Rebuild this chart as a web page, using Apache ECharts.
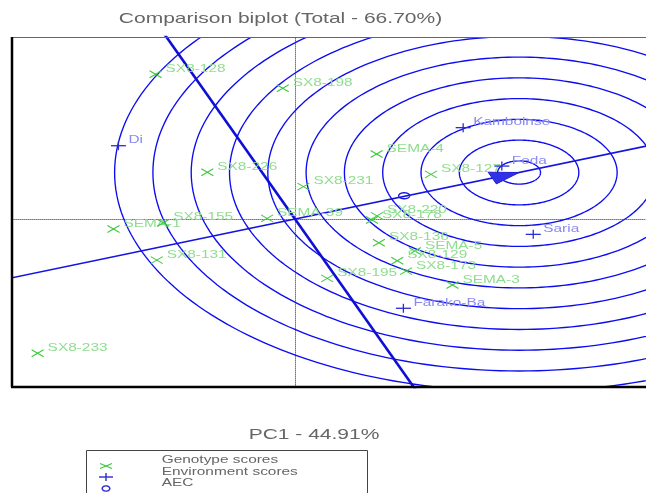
<!DOCTYPE html>
<html><head><meta charset="utf-8">
<script src="https://cdn.jsdelivr.net/npm/echarts@6/dist/echarts.min.js"></script>
<style>html,body{margin:0;padding:0;background:#fff}#c{width:646px;height:493px}</style>
</head><body><div id="c"></div>
<script>
// ---- data ----
const genotypeNames = ['SX8-128','SX8-198','SX8-226','SX8-231','SEMA-4','SX8-127','SX8-220','SX8-178','SX8-136','SEMA-5','SX8-129','SX8-173','SX8-195','SEMA-3','SEMA-1','SX8-155','SEMA-39','SX8-131','SX8-233'];
const genotypeX = [-3.64,-0.32,-2.29,0.22,2.13,3.55,2.14,2.01,2.19,3.13,2.67,2.90,0.84,4.11,-4.74,-3.44,-0.73,-3.61,-6.72];
const genotypeY = [6.97,6.30,2.25,1.56,3.13,2.15,0.15,-0.05,-1.14,-1.54,-2.01,-2.51,-2.86,-3.18,-0.48,-0.18,0.03,-1.98,-6.47];
const envNames = ['Di','Kamboinse','Feda','Saria','Farako-Ba'];
const envX = [-4.61,4.39,5.40,6.22,2.83];
const envY = [3.53,4.40,2.55,-0.74,-4.30];
const aecPoint = [2.85, 1.12];
const idealPoint = [5.85, 2.24];
const circleRadii = [0.56,1.56,2.56,3.56,4.56,5.56,6.56,7.56,8.56,9.56,10.56];
const titleText = 'Comparison biplot (Total - 66.70%)';
const xAxisTitle = 'PC1 - 44.91%';
const legendLabels = ['Genotype scores','Environment scores','AEC'];

// ---- styling ----
const SX = 1.4; // horizontal text stretch seen in the reference
const FONT = '"Liberation Sans", Arial, sans-serif';
const GREEN = '#3cc83c', GREEN_L = '#8fdd8f';
const BLUE = '#2b2bd4', BLUE_L = '#8a8af0';

function txt(x, y, t, fill, size, align, sx) {
  return {type:'text', x:x, y:y, scaleX:sx,
    style:{text:t, fill:fill, font:size+'px '+FONT, textAlign:align, textVerticalAlign:'middle', align:align, verticalAlign:'middle'}};
}
function ellipsePts(cx, cy, rx, ry) {
  const pts = [];
  for (let i = 0; i <= 48; i++) { const t = i/48*2*Math.PI; pts.push([cx + rx*Math.cos(t), cy + ry*Math.sin(t)]); }
  return pts;
}
function clipRect(params){ const c = params.coordSys; return {type:'rect', shape:{x:c.x, y:c.y, width:c.width, height:c.height}}; }

const chart = echarts.init(document.getElementById('c'), null, {renderer:'canvas'});
const ux = idealPoint[0], uy = idealPoint[1];
const ulen = Math.hypot(ux, uy);
const T = 4;

chart.setOption({
  animation:false,
  backgroundColor:'#fff',
  grid:{left:12, top:37, right:0, height:350, show:false},
  xAxis:{type:'value', min:-7.389, max:9.164, splitLine:{show:false}, axisTick:{show:false}, axisLabel:{show:false},
    axisLine:{show:true, onZero:true, lineStyle:{type:'dotted', color:'#777', width:1}}},
  yAxis:{type:'value', min:-8.092, max:8.767, splitLine:{show:false}, axisTick:{show:false}, axisLabel:{show:false},
    axisLine:{show:true, onZero:true, lineStyle:{type:'dotted', color:'#777', width:1}}},
  graphic:[
    {type:'line', shape:{x1:12, y1:37.5, x2:646, y2:37.5}, style:{stroke:'#666', lineWidth:1.2}, z:100},
    {type:'line', shape:{x1:12, y1:37, x2:12, y2:387}, style:{stroke:'#000', lineWidth:2.5}, z:100},
    {type:'line', shape:{x1:11, y1:387, x2:646, y2:387}, style:{stroke:'#000', lineWidth:2.5}, z:100},
    Object.assign(txt(280.5, 18.5, titleText, '#666', 15, 'center', SX), {z:100}),
    Object.assign(txt(314, 435, xAxisTitle, '#666', 15, 'center', SX), {z:100}),
    {type:'rect', shape:{x:86.5, y:450.5, width:281, height:60}, style:{stroke:'#444', fill:'#fff', lineWidth:1}, z:100},
    {type:'line', shape:{x1:100, y1:463.5, x2:112, y2:468.5}, style:{stroke:GREEN, lineWidth:1.1}, z:101},
    {type:'line', shape:{x1:100, y1:468.5, x2:112, y2:463.5}, style:{stroke:GREEN, lineWidth:1.1}, z:101},
    {type:'line', shape:{x1:99, y1:477, x2:113, y2:477}, style:{stroke:BLUE, lineWidth:1.4}, z:101},
    {type:'line', shape:{x1:106, y1:473, x2:106, y2:481}, style:{stroke:BLUE, lineWidth:1.4}, z:101},
    {type:'polyline', shape:{points:ellipsePts(106, 488.5, 3.8, 2.6)}, style:{stroke:BLUE, fill:null, lineWidth:1.4}, z:101},
    Object.assign(txt(161.7, 460, legendLabels[0], '#666', 11, 'left', SX), {z:101}),
    Object.assign(txt(161.7, 471.7, legendLabels[1], '#666', 11, 'left', SX), {z:101}),
    Object.assign(txt(161.7, 483.3, legendLabels[2], '#666', 11, 'left', SX), {z:101})
  ],
  series:[
    { // concentric circles around the ideal genotype
      type:'custom', silent:true, z:2,
      data: circleRadii.map(r => [idealPoint[0], idealPoint[1], r]),
      encode:{x:0, y:1},
      renderItem:(params, api) => {
        const cx = api.value(0), cy = api.value(1), r = api.value(2);
        const pts = [];
        for (let i = 0; i <= 240; i++) { const t = i/240*2*Math.PI; pts.push(api.coord([cx + r*Math.cos(t), cy + r*Math.sin(t)])); }
        return {type:'group', clipPath:clipRect(params), children:[
          {type:'polyline', shape:{points:pts}, style:{stroke:'#0c0cf2', lineWidth:1.35, fill:null}}]};
      }
    },
    { // AEC abscissa through origin and ideal point
      type:'line', symbol:'none', z:3, silent:true, clip:true,
      data:[[-T*ux, -T*uy],[T*ux, T*uy]],
      lineStyle:{color:'#1414e0', width:1.6}
    },
    { // perpendicular line through origin
      type:'line', symbol:'none', z:3, silent:true, clip:true,
      data:[[T*uy, -T*ux],[-T*uy, T*ux]],
      lineStyle:{color:'#0e0ed4', width:2.6}
    },
    { // arrowhead at the ideal point
      type:'custom', silent:true, z:4,
      data:[[idealPoint[0], idealPoint[1]]],
      encode:{x:0, y:1},
      renderItem:(params, api) => {
        const tx = api.value(0), ty = api.value(1);
        const ex = ux/ulen, ey = uy/ulen, nx = -ey, ny = ex;
        const bx = tx - 0.75*ex, by = ty - 0.75*ey;
        const pts = [api.coord([tx,ty]), api.coord([bx+0.3*nx, by+0.3*ny]), api.coord([bx-0.3*nx, by-0.3*ny])];
        return {type:'polygon', shape:{points:pts}, style:{fill:'#3030e8', stroke:'#2020d0', lineWidth:1}};
      }
    },
    { // AEC marker (average environment)
      type:'custom', silent:true, z:5,
      data:[aecPoint],
      encode:{x:0, y:1},
      renderItem:(params, api) => {
        const p = api.coord([api.value(0), api.value(1)]);
        return {type:'polyline', shape:{points:ellipsePts(p[0], p[1], 5.5, 3)}, style:{stroke:'#1a1ad8', fill:null, lineWidth:1.4}};
      }
    },
    { // genotype scores
      type:'custom', silent:true, z:6,
      data: genotypeX.map((x,i) => [x, genotypeY[i], i]),
      encode:{x:0, y:1},
      renderItem:(params, api) => {
        const p = api.coord([api.value(0), api.value(1)]);
        const name = genotypeNames[api.value(2)];
        return {type:'group', children:[
          {type:'line', shape:{x1:p[0]-6, y1:p[1]-3.5, x2:p[0]+6, y2:p[1]+3.5}, style:{stroke:GREEN, lineWidth:1.1}},
          {type:'line', shape:{x1:p[0]-6, y1:p[1]+3.5, x2:p[0]+6, y2:p[1]-3.5}, style:{stroke:GREEN, lineWidth:1.1}},
          txt(p[0]+10, p[1]-5.5, name, GREEN_L, 11, 'left', SX)
        ]};
      }
    },
    { // environment scores
      type:'custom', silent:true, z:6,
      data: envX.map((x,i) => [x, envY[i], i]),
      encode:{x:0, y:1},
      renderItem:(params, api) => {
        const p = api.coord([api.value(0), api.value(1)]);
        const name = envNames[api.value(2)];
        return {type:'group', children:[
          {type:'line', shape:{x1:p[0]-7.5, y1:p[1], x2:p[0]+7.5, y2:p[1]}, style:{stroke:BLUE, lineWidth:1.3}},
          {type:'line', shape:{x1:p[0], y1:p[1]-4.5, x2:p[0], y2:p[1]+4.5}, style:{stroke:BLUE, lineWidth:1.3}},
          txt(p[0]+10, p[1]-5.5, name, BLUE_L, 11, 'left', SX)
        ]};
      }
    }
  ]
});
</script></body></html>
